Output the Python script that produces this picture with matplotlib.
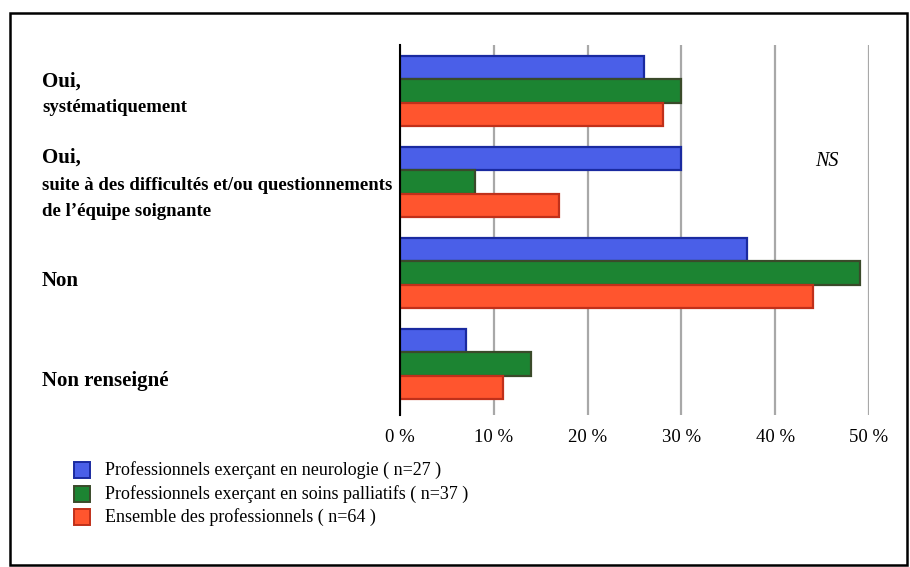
import matplotlib
matplotlib.use("Agg")
import matplotlib.pyplot as plt
from matplotlib.patches import Rectangle
import numpy as np

plt.rcParams['font.family'] = ['Liberation Serif', 'DejaVu Serif']

categories_main = ["Oui,", "Oui,", "Non", "Non renseigné"]
categories_sub = ["systématiquement",
                  "suite à des difficultés et/ou questionnements\nde l\u2019équipe soignante",
                  "", ""]
series_names = ["Professionnels exerçant en neurologie ( n=27 )",
                "Professionnels exerçant en soins palliatifs ( n=37 )",
                "Ensemble des professionnels ( n=64 )"]
neurologie = [26, 30, 37, 7]
palliatifs = [30, 8, 49, 14]
ensemble = [28, 17, 44, 11]
xticks = [0, 10, 20, 30, 40, 50]
xtick_labels = ["0 %", "10 %", "20 %", "30 %", "40 %", "50 %"]

fills = ["#4a5fe8", "#1c8432", "#ff552e"]
edges = ["#1a2aa0", "#3a4a2a", "#c0301a"]

W, H = 910, 567
fig = plt.figure(figsize=(W / 100, H / 100), dpi=100)
fig.patch.set_facecolor("white")

# outer frame
fig.add_artist(Rectangle((10 / W, 1 - 565 / H), (907 - 10) / W, (565 - 13) / H,
                         transform=fig.transFigure, fill=False,
                         edgecolor="black", linewidth=1.8))

ax = fig.add_axes([400 / W, 1 - 415 / H, 469 / W, (415 - 45) / H])
ax.set_xlim(0, 50)
ax.set_ylim(3.56, -0.505)

bh = 0.255
y = np.arange(len(categories_main))
for i, vals in enumerate([neurologie, palliatifs, ensemble]):
    ax.barh(y + (i - 1) * bh, vals, height=bh, color=fills[i],
            edgecolor=edges[i], linewidth=1.6, zorder=3, label=series_names[i])

ax.set_xticks(xticks)
ax.set_xticklabels(xtick_labels, fontsize=13.5)
ax.set_yticks([])
ax.tick_params(axis="x", length=0, pad=10)
ax.grid(axis="x", color="#a8a8a8", linewidth=1.6, zorder=0)
ax.set_axisbelow(True)
for s in ["top", "right", "bottom"]:
    ax.spines[s].set_visible(False)
ax.spines["left"].set_linewidth(1.5)
ax.spines["left"].set_color("black")
ax.spines["left"].set_zorder(5)

ax.text(45.5, 0.78, "NS", fontsize=14.5, style="italic", ha="center", va="center")

def fy(py):
    return 1 - py / H

# category labels
main_fs, sub_fs = 15, 13.5
fig.text(42 / W, fy(82), categories_main[0], fontsize=main_fs, fontweight="bold", va="center")
fig.text(42 / W, fy(108), categories_sub[0], fontsize=sub_fs, fontweight="bold", va="center")
fig.text(42 / W, fy(158), categories_main[1], fontsize=main_fs, fontweight="bold", va="center")
sub_lines = categories_sub[1].split("\n")
fig.text(42 / W, fy(186), sub_lines[0], fontsize=sub_fs, fontweight="bold", va="center")
fig.text(42 / W, fy(212), sub_lines[1], fontsize=sub_fs, fontweight="bold", va="center")
fig.text(42 / W, fy(281), categories_main[2], fontsize=main_fs, fontweight="bold", va="center")
fig.text(42 / W, fy(381), categories_main[3], fontsize=main_fs, fontweight="bold", va="center")

# legend
rows = [470, 494, 517]
for i, name in enumerate(series_names):
    fig.add_artist(Rectangle((74 / W, fy(rows[i] + 8)), 16 / W, 16 / H,
                             transform=fig.transFigure, facecolor=fills[i],
                             edgecolor=edges[i], linewidth=1.4))
    fig.text(105 / W, fy(rows[i]), name, fontsize=13, va="center")

fig.savefig("out.png", dpi=100)
